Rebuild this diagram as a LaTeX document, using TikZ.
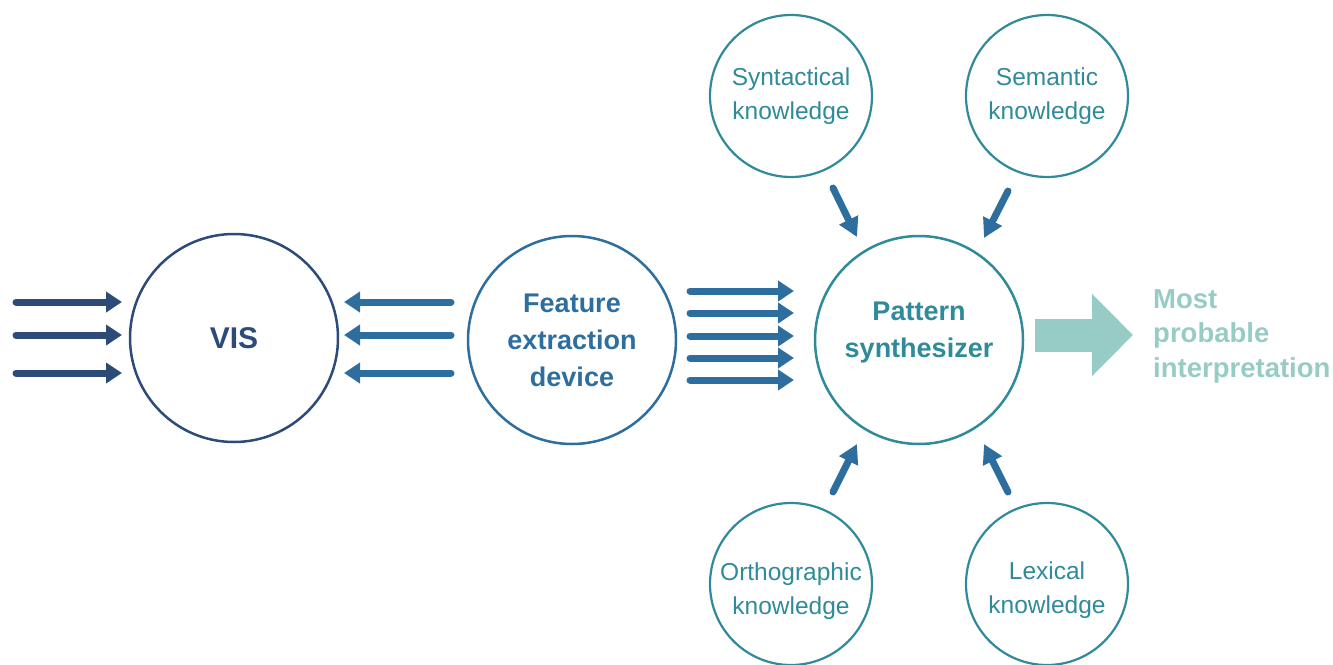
\documentclass[tikz,border=0pt]{standalone}
\usepackage{fontspec}
\setmainfont{Liberation Sans}
\usetikzlibrary{arrows.meta}
\definecolor{navyC}{HTML}{2C4B78}
\definecolor{blueC}{HTML}{2E6E9E}
\definecolor{tealC}{HTML}{2F8A99}
\definecolor{mintC}{HTML}{97CCC6}
\tikzset{
  bigcirc/.style={circle, draw, line width=2.5pt, minimum size=208pt, inner sep=0pt, align=center,
    font=\fontsize{27}{37}\selectfont\bfseries},
  smallcirc/.style={circle, draw=tealC, line width=2.2pt, minimum size=162pt, inner sep=0pt, align=center,
    text=tealC, font=\fontsize{24.5}{34.5}\selectfont},
  smalltext/.style={align=center, text=tealC, inner sep=0pt, font=\fontsize{24.5}{34.5}\selectfont},
  fatarrow/.style={line width=7pt, line cap=round, -{Triangle[length=16pt,width=20pt]}},
  kbarrow/.style={line width=7pt, line cap=round, -{Triangle[length=19pt,width=20pt]}},
  outtext/.style={align=left, text=mintC, inner sep=0pt, anchor=west,
    font=\fontsize{27.5}{34.5}\selectfont\bfseries}
}
\begin{document}
\begin{tikzpicture}[x=1pt,y=-1pt]
\useasboundingbox (0,0) rectangle (1333,664);

% main circles
\node[bigcirc, draw=navyC, text=navyC, font=\fontsize{30}{37}\selectfont\bfseries] (vis) at (234,338) {VIS};
\node[bigcirc, draw=blueC, text=blueC] (fed) at (572,340) {Feature\\extraction\\device};
\node[bigcirc, draw=tealC,
  label={[yshift=7pt, align=center, text=tealC, inner sep=0pt, font=\fontsize{27}{37}\selectfont\bfseries]center:Pattern\\synthesizer}] (ps) at (919,340) {};

% knowledge circles
\node[smallcirc] (syn) at (791,96) {Syntactical\\knowledge};
\node[smallcirc] (sem) at (1047,96) {Semantic\\knowledge};
\node[smallcirc, label={[smalltext, yshift=-7pt]center:Orthographic\\knowledge}] (orth) at (791,584) {};
\node[smallcirc, label={[smalltext, yshift=-6pt]center:Lexical\\knowledge}] (lex) at (1047,584) {};

% output text
\node[outtext] (out) at (1153,336) {Most\\probable\\interpretation};

% inputs to VIS
\foreach \i/\y in {1/302,2/335,3/373}{
  \coordinate (in\i) at (16,\y);
  \coordinate (vin\i) at (122,\y);
  \draw[fatarrow, navyC] (in\i) -- (vin\i);
}
% feature -> VIS (backwards)
\foreach \i/\y in {1/302,2/335,3/373}{
  \coordinate (fb\i) at (451,\y);
  \coordinate (vb\i) at (344,\y);
  \draw[fatarrow, blueC] (fb\i) -- (vb\i);
}
% feature -> pattern
\foreach \i/\y in {1/291,2/313,3/336,4/358,5/380}{
  \coordinate (fo\i) at (690,\y);
  \coordinate (pi\i) at (794,\y);
  \draw[fatarrow, blueC] (fo\i) -- (pi\i);
}

% knowledge arrows
\coordinate (synA) at (833,188);
\coordinate (synB) at (857,237);
\coordinate (semA) at (1008,191);
\coordinate (semB) at (984,238);
\coordinate (orthA) at (833,492);
\coordinate (orthB) at (857,444);
\coordinate (lexA) at (1008,492);
\coordinate (lexB) at (984,444);
\draw[kbarrow, blueC] (synA) -- (synB);
\draw[kbarrow, blueC] (semA) -- (semB);
\draw[kbarrow, blueC] (orthA) -- (orthB);
\draw[kbarrow, blueC] (lexA) -- (lexB);

% big output arrow
\coordinate (bigA) at (1035,335);
\coordinate (bigB) at (1133,335);
\draw[mintC, line width=33pt, -{Triangle[length=41pt,width=80pt]}] (bigA) -- (bigB);
\end{tikzpicture}
\end{document}
